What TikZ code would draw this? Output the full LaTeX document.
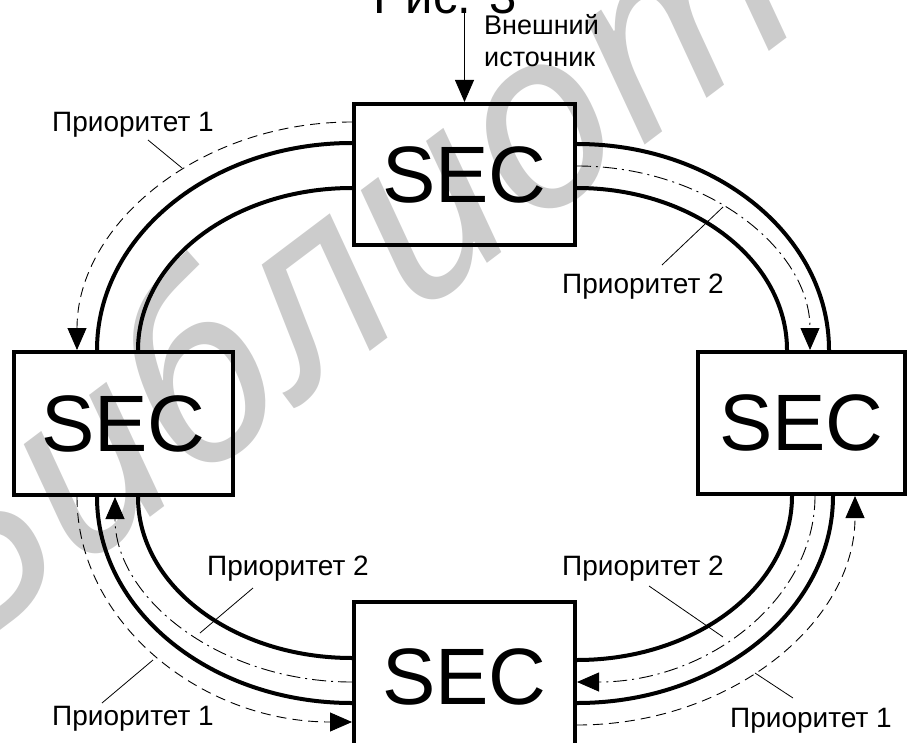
\documentclass[tikz,border=0pt]{standalone}
\usepackage{fontspec}
\setmainfont{Liberation Sans}
\newfontfamily\wmfont{Noto Sans}
\usetikzlibrary{arrows.meta,calc}

% quarter-ellipse joints; H has a horizontal tangent, V a vertical one
\newcommand\hvarc[2]{(#1) .. controls ($(#1)!0.5523!(#2|-#1)$) and ($(#2)!0.5523!(#2|-#1)$) .. (#2)}
\newcommand\vharc[2]{(#1) .. controls ($(#1)!0.5523!(#1|-#2)$) and ($(#2)!0.5523!(#1|-#2)$) .. (#2)}

\begin{document}
\begin{tikzpicture}[x=1pt,y=-1pt,
  secbox/.style={draw, line width=4pt, rectangle, inner sep=0pt,
    font=\fontsize{80}{96}\selectfont},
  ring/.style={line width=4pt},
  prioA/.style={line width=0.9pt, dash pattern=on 10pt off 6pt},
  prioB/.style={line width=0.9pt, dash pattern=on 14pt off 5pt on 2pt off 5pt},
  tip/.style={-{Triangle[length=22pt,width=19pt]}},
  lbl/.style={font=\fontsize{28}{30}\selectfont, inner sep=0pt, anchor=base west},
  leader/.style={line width=0.8pt},
]
\useasboundingbox (0,0) rectangle (909,743);

% watermark
\node[text=black!20, font=\wmfont\itshape\fontsize{250}{250}\selectfont,
  rotate=37, anchor=base west, inner sep=0pt] (wm) at (-32,655) {Библиотека};

% caption, cut by the page edge
\node[font=\fontsize{49}{50}\selectfont, anchor=base, inner sep=0pt] (cap) at (445,14) {Рис. 3};

% the four clocks
\node[secbox, minimum width=221pt, minimum height=141pt] (top) at (464.5,174.5) {SEC};
\node[secbox, minimum width=219pt, minimum height=143pt] (left) at (123.5,423.5) {SEC};
\node[secbox, minimum width=207pt, minimum height=142pt] (right) at (801.5,423) {SEC};
\node[secbox, minimum width=221pt, minimum height=149pt] (bot) at (464.5,676.5) {SEC};

% attachment points on the box sides
\coordinate (tW1) at ($(top.west)+(0,-52.5)$);
\coordinate (tW2) at ($(top.west)+(0,-31.5)$);
\coordinate (tW3) at ($(top.west)+(0,13.5)$);
\coordinate (tE2) at ($(top.east)+(0,-30.5)$);
\coordinate (tE4) at ($(top.east)+(0,-8.5)$);
\coordinate (tE3) at ($(top.east)+(0,13.5)$);
\coordinate (lN1) at ($(left.north)+(-46.5,0)$);
\coordinate (lN2) at ($(left.north)+(-26.5,0)$);
\coordinate (lN3) at ($(left.north)+(14.5,0)$);
\coordinate (lS1) at ($(left.south)+(-46.5,0)$);
\coordinate (lS2) at ($(left.south)+(-26.5,0)$);
\coordinate (lS4) at ($(left.south)+(-8.5,0)$);
\coordinate (lS3) at ($(left.south)+(14.5,0)$);
\coordinate (rN2) at ($(right.north)+(27.5,0)$);
\coordinate (rN4) at ($(right.north)+(8.5,0)$);
\coordinate (rN3) at ($(right.north)+(-14.5,0)$);
\coordinate (rS3) at ($(right.south)+(-9.5,0)$);
\coordinate (rS4) at ($(right.south)+(13.5,0)$);
\coordinate (rS2) at ($(right.south)+(31.5,0)$);
\coordinate (rS1) at ($(right.south)+(53.5,0)$);
\coordinate (bW3) at (bot.west|-0,658);
\coordinate (bW4) at (bot.west|-0,682);
\coordinate (bW2) at (bot.west|-0,703);
\coordinate (bW1) at (bot.west|-0,722);
\coordinate (bE3) at (bot.east|-0,660);
\coordinate (bE4) at (bot.east|-0,682);
\coordinate (bE2) at (bot.east|-0,703);
\coordinate (bE1) at (bot.east|-0,725);

% ring links
\draw[ring] \hvarc{tW2}{lN2};
\draw[ring] \hvarc{tW3}{lN3};
\draw[ring] \hvarc{tE2}{rN2};
\draw[ring] \hvarc{tE3}{rN3};
\draw[ring] \vharc{lS2}{bW2};
\draw[ring] \vharc{lS3}{bW3};
\draw[ring] \vharc{rS3}{bE3};
\draw[ring] \vharc{rS2}{bE2};

% synchronisation paths
\draw[prioA, tip] \hvarc{tW1}{lN1};
\draw[prioB, tip] \hvarc{tE4}{rN4};
\draw[prioA, tip] \vharc{lS1}{bW1};
\draw[prioB, tip] \hvarc{bW4}{lS4};
\draw[prioB, tip] \vharc{rS4}{bE4};
\draw[prioA, tip] \hvarc{bE1}{rS1};

% external reference
\coordinate (ext) at (464.5,13);
\draw[line width=0.9pt, tip] (ext) -- (top.north);
\node[font=\fontsize{27}{30}\selectfont, inner sep=0pt, anchor=base west] (ext1) at (484,35) {Внешний};
\node[font=\fontsize{27}{30}\selectfont, inner sep=0pt, anchor=base west] (ext2) at (484,67) {источник};

% labels with leaders
\node[lbl] (p1a) at (52,132) {Приоритет 1};
\node[lbl] (p2a) at (562,293) {Приоритет 2};
\node[lbl] (p2b) at (207,575) {Приоритет 2};
\node[lbl] (p1b) at (52,725) {Приоритет 1};
\node[lbl] (p2c) at (562,575) {Приоритет 2};
\node[lbl] (p1c) at (730,727) {Приоритет 1};

\coordinate (a1) at (148,140);  \coordinate (a2) at (182,168);
\coordinate (b1) at (662,265);  \coordinate (b2) at (723,207);
\coordinate (c1) at (253,588);  \coordinate (c2) at (200,633);
\coordinate (d1) at (102,703);  \coordinate (d2) at (153,660);
\coordinate (e1) at (649,586);  \coordinate (e2) at (723,637);
\coordinate (f1) at (793,698);  \coordinate (f2) at (755,673);
\draw[leader] (a1) -- (a2);
\draw[leader] (b1) -- (b2);
\draw[leader] (c1) -- (c2);
\draw[leader] (d1) -- (d2);
\draw[leader] (e1) -- (e2);
\draw[leader] (f1) -- (f2);
\end{tikzpicture}
\end{document}
